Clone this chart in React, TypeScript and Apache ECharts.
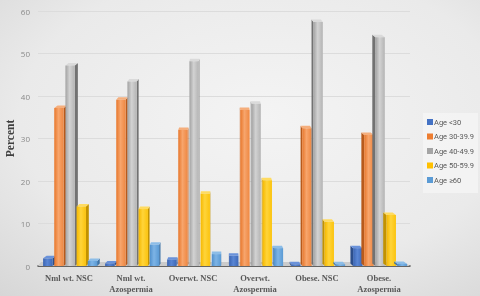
import React, { useEffect, useRef } from "react";
import * as echarts from "echarts";

// Groups on the category axis
const categories = [
  "Nml wt. NSC",
  "Nml wt.\nAzospermia",
  "Overwt. NSC",
  "Overwt.\nAzospermia",
  "Obese. NSC",
  "Obese.\nAzospermia",
];

// Percent of men in each age band, per group
const ageUnder30 = [1.8, 0.6, 1.5, 2.4, 0.4, 4.2];
const age30to39 = [37.2, 39.1, 32.0, 36.7, 32.4, 30.8];
const age40to49 = [47.2, 43.4, 48.2, 38.2, 57.4, 53.8];
const age50to59 = [14.0, 13.4, 17.0, 20.2, 10.4, 12.0];
const age60plus = [1.2, 5.0, 2.8, 4.2, 0.4, 0.5];

const seriesNames = ["Age <30", "Age 30-39.9", "Age 40-49.9", "Age 50-59.9", "Age ≥60"];
const seriesValues = [ageUnder30, age30to39, age40to49, age50to59, age60plus];

// front colours: [edge, highlight, other edge], side, top
const palette = [
  { base: "#4472C4", front: ["#3A64B2", "#5A86D4", "#3E69B8"], side: "#2D4F8C", top: "#6A92DA" },
  { base: "#ED7D31", front: ["#E8772B", "#F7A56C", "#EE8741"], side: "#B85A1B", top: "#F5AE7C" },
  { base: "#A5A5A5", front: ["#A2A2A2", "#D2D2D2", "#B4B4B4"], side: "#727272", top: "#DADADA" },
  { base: "#FFC000", front: ["#F5B800", "#FFD43A", "#FBC30D"], side: "#C29200", top: "#FFDB60" },
  { base: "#5B9BD5", front: ["#4F8FCB", "#7DB4E6", "#5A9AD4"], side: "#3D73A6", top: "#8CBDE8" },
];

function barRenderer(slotIndex: number) {
  const col = palette[slotIndex];
  return (params: any, api: any) => {
    const cat = api.value(0);
    const val = api.value(1);
    const base = api.coord([cat, 0]);
    const top = api.coord([cat, val]);
    const band = api.size([1, 0])[0];
    const groupW = band * 0.9;
    const slot = groupW / 5;
    const x0 = base[0] - groupW / 2 + slot * slotIndex + 2;
    const fw = slot * 0.84;
    const x1 = x0 + fw;
    const cs = params.coordSys;
    const cx = cs.x + cs.width / 2;
    const dx = (cx - (x0 + x1) / 2) * 0.02;
    const dy = -2.5;
    const yT = top[1];
    const yB = base[1];
    const sx = dx >= 0 ? x1 : x0;
    const children: any[] = [
      {
        type: "polygon",
        shape: {
          points: [
            [sx, yT],
            [sx + dx, yT + dy],
            [sx + dx, yB + dy],
            [sx, yB],
          ],
        },
        style: { fill: col.side },
      },
      {
        type: "polygon",
        shape: {
          points: [
            [x0, yT],
            [x1, yT],
            [x1 + dx, yT + dy],
            [x0 + dx, yT + dy],
          ],
        },
        style: { fill: col.top },
      },
      {
        type: "rect",
        shape: { x: x0, y: yT, width: fw, height: yB - yT },
        style: {
          fill: new echarts.graphic.LinearGradient(0, 0, 1, 0, [
            { offset: 0, color: col.front[0] },
            { offset: 0.45, color: col.front[1] },
            { offset: 1, color: col.front[2] },
          ]),
        },
      },
    ];
    return { type: "group", children };
  };
}

export default function App() {
  const ref = useRef<HTMLDivElement>(null);

  useEffect(() => {
    if (!ref.current) return;
    const chart = echarts.init(ref.current, null, { renderer: "svg" });

    const barSeries = seriesValues.map((vals, i) => ({
      name: seriesNames[i],
      type: "custom",
      coordinateSystem: "cartesian2d",
      renderItem: barRenderer(i),
      itemStyle: { color: palette[i].base },
      encode: { x: 0, y: 1 },
      data: vals.map((v, c) => [c, v]),
      z: 3,
    }));

    const floorSeries = {
      name: "floor",
      type: "custom",
      coordinateSystem: "cartesian2d",
      silent: true,
      z: 1,
      data: [[0, 0]],
      renderItem: (params: any) => {
        const cs = params.coordSys;
        const yB = cs.y + cs.height;
        return {
          type: "polygon",
          shape: {
            points: [
              [cs.x, yB],
              [cs.x + cs.width, yB],
              [cs.x + cs.width - 6, yB - 4],
              [cs.x + 3, yB - 4],
            ],
          },
          style: { fill: "#cbcbcb" },
        };
      },
    };

    chart.setOption({
      animation: false,
      backgroundColor: {
        type: "radial",
        x: 0.55,
        y: 0.4,
        r: 0.85,
        colorStops: [
          { offset: 0, color: "#f4f4f4" },
          { offset: 0.6, color: "#eaeaea" },
          { offset: 1, color: "#d4d4d4" },
        ],
      },
      grid: {
        left: 38,
        right: 70,
        top: 11,
        bottom: 30,
        containLabel: false,
        outerBoundsMode: "none",
      },
      legend: {
        orient: "vertical",
        left: 423,
        top: 113,
        width: 55,
        data: seriesNames,
        icon: "rect",
        itemWidth: 6,
        itemHeight: 6,
        itemGap: 6.5,
        padding: [5, 4, 9, 4],
        backgroundColor: "rgba(244,244,244,0.85)",
        textStyle: {
          color: "#595959",
          fontSize: 7.5,
          fontFamily: "Roboto",
          padding: [0, 0, 0, -4],
        },
      },
      xAxis: {
        type: "category",
        data: categories,
        axisLine: { show: true, lineStyle: { color: "#3c3c3c", width: 1.5 } },
        axisTick: { show: false },
        axisLabel: {
          color: "#595959",
          fontFamily: "Liberation Serif",
          fontWeight: "bold",
          fontSize: 8.5,
          lineHeight: 10.5,
          margin: 7,
          interval: 0,
        },
        splitLine: { show: false },
      },
      yAxis: {
        type: "value",
        min: 0,
        max: 60,
        interval: 10,
        name: "Percent",
        nameLocation: "middle",
        nameRotate: 90,
        nameGap: 22,
        nameMoveOverlap: false,
        nameTextStyle: {
          color: "#404040",
          fontFamily: "Liberation Serif",
          fontWeight: "bold",
          fontSize: 11.5,
        },
        axisLine: { show: false },
        axisTick: { show: false },
        axisLabel: { color: "#8a8a8a", fontSize: 8, fontFamily: "Open Sans", margin: 8 },
        splitLine: { show: true, lineStyle: { color: "#dcdcdc", width: 1 } },
      },
      series: [floorSeries, ...barSeries],
    });

    return () => chart.dispose();
  }, []);

  return (
    <div
      ref={ref}
      style={{ position: "fixed", left: 0, top: 0, width: 480, height: 296 }}
    />
  );
}
